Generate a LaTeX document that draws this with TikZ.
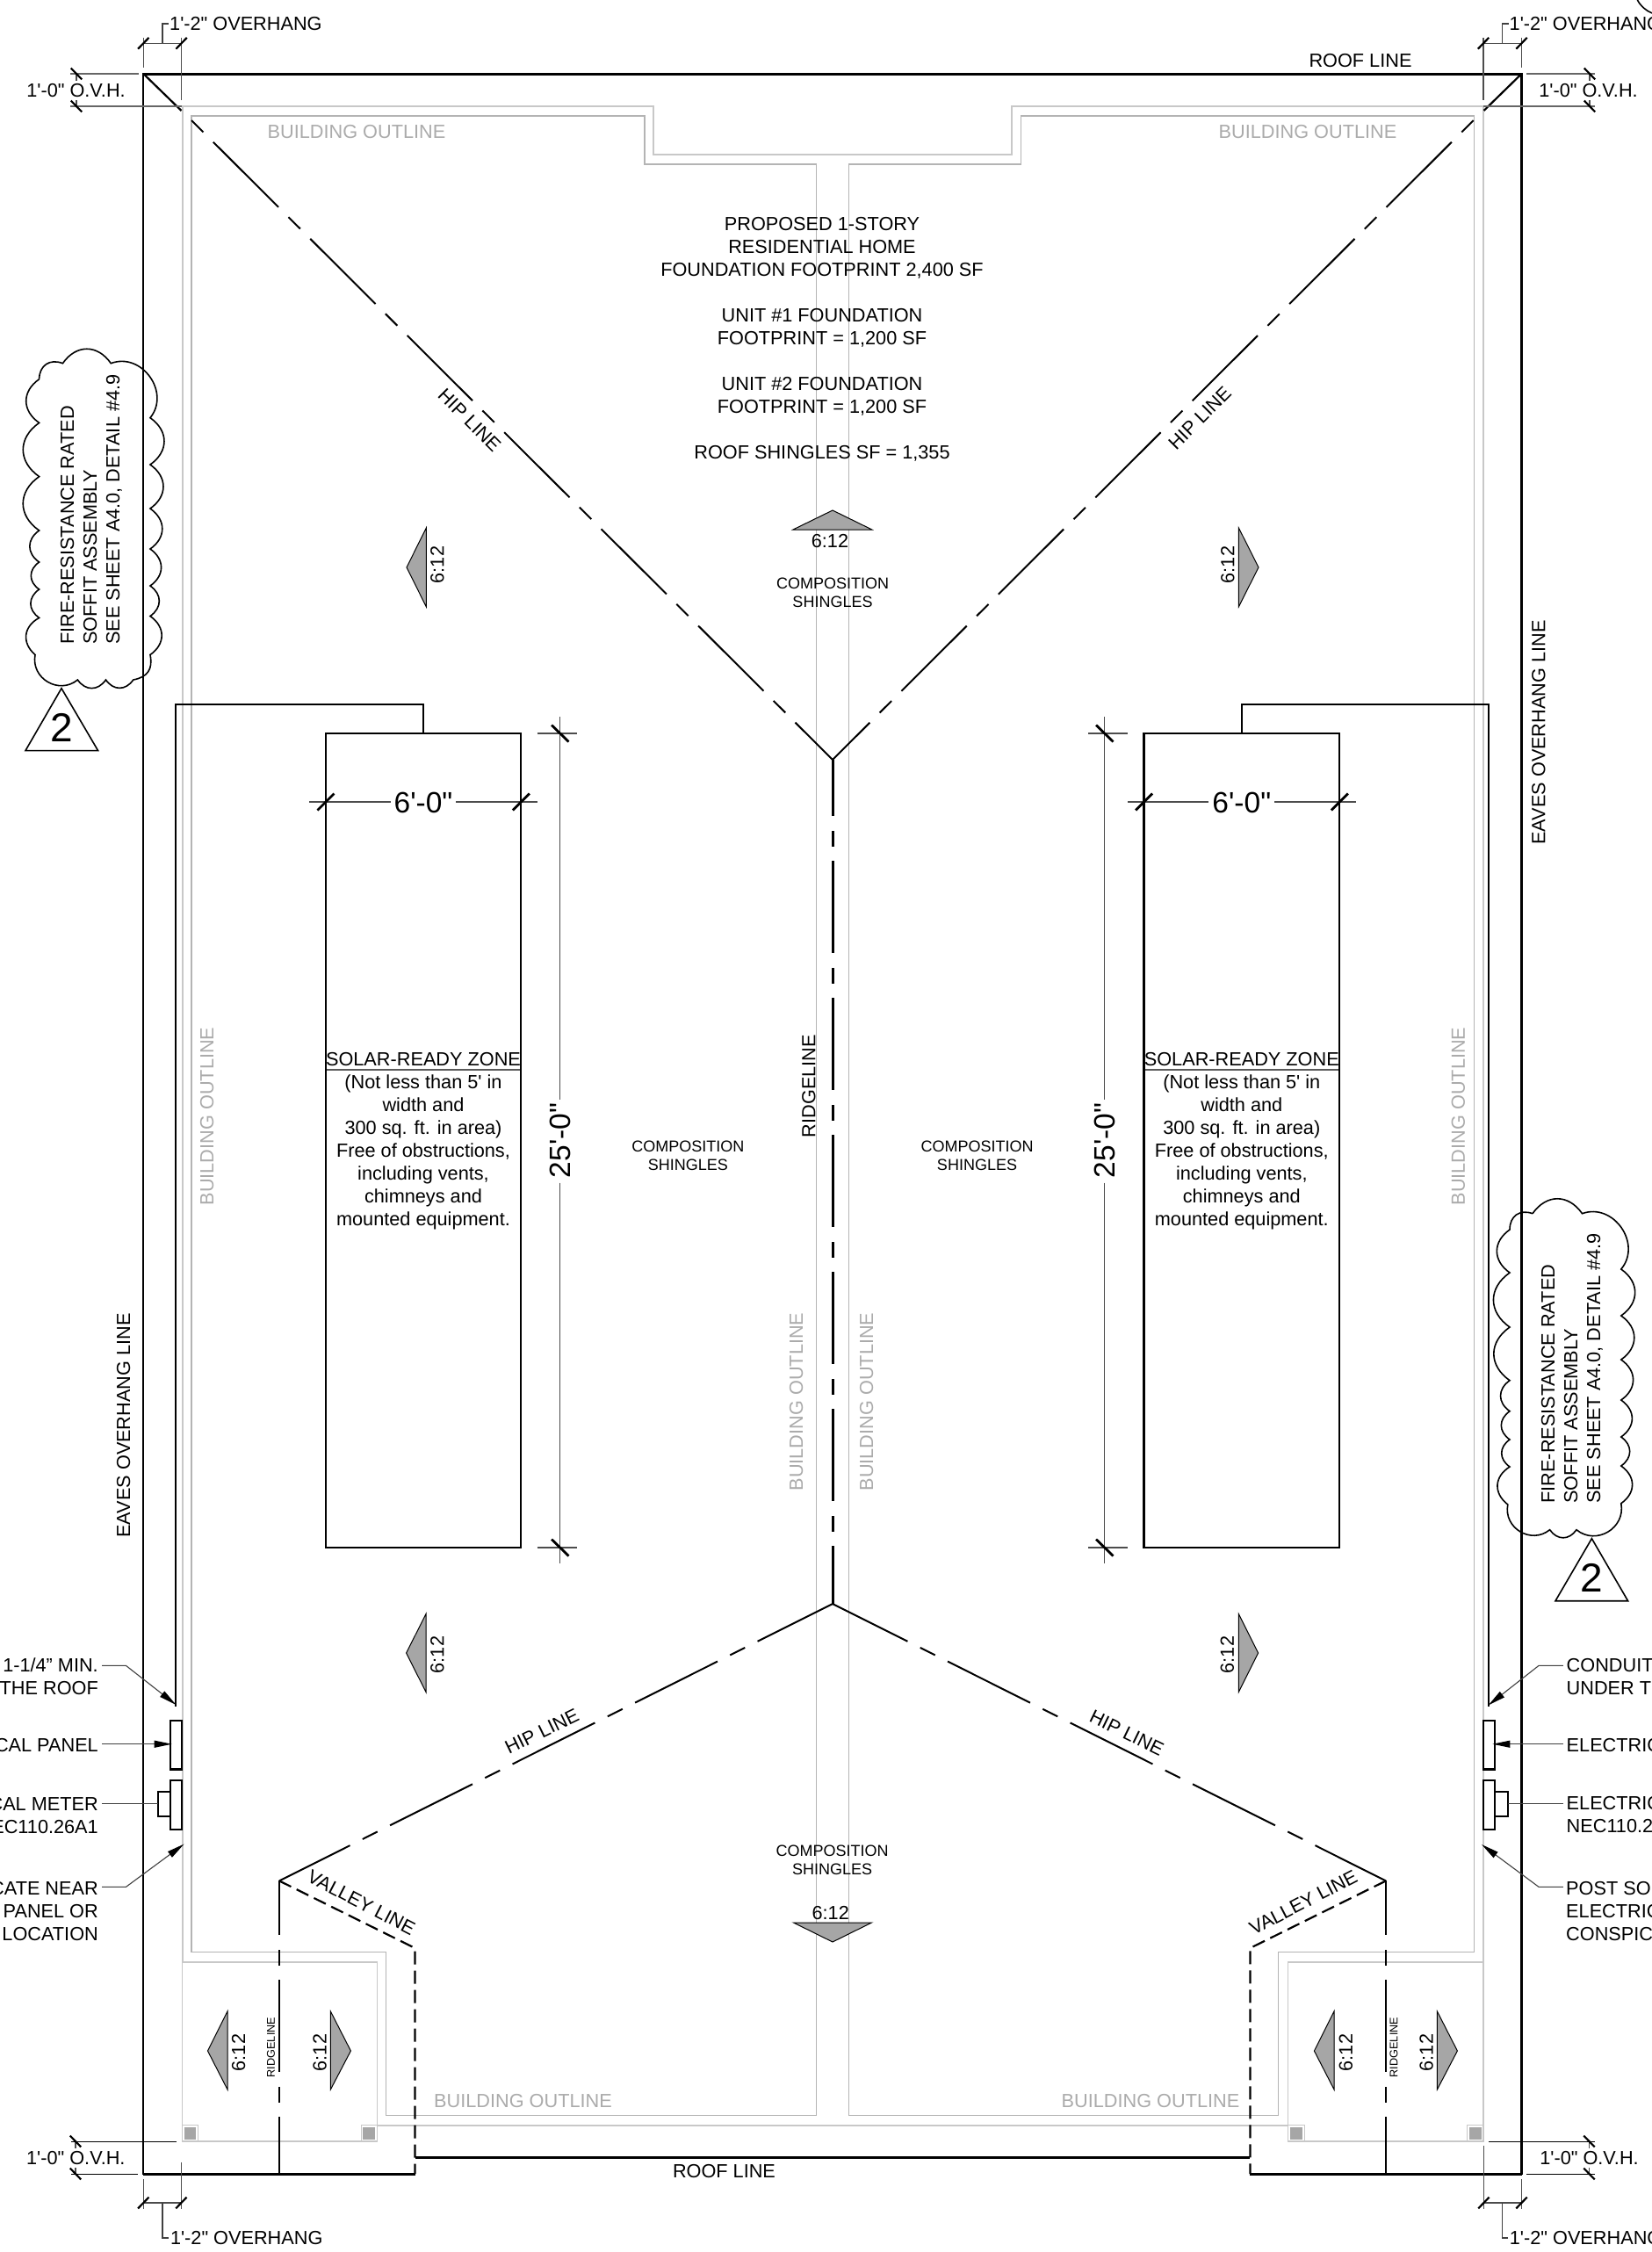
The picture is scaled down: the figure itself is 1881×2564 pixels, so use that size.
\documentclass[tikz,border=0pt]{standalone}
\usepackage{fontspec}
\usetikzlibrary{arrows.meta}
\newfontfamily\arialf{Liberation Sans}
\newcommand\fsz[1]{\arialf\fontsize{#1}{26}\selectfont}
\newcommand\fszs[1]{\arialf\fontsize{#1}{21}\selectfont}
\definecolor{grayA}{HTML}{C8C8C8}
\definecolor{grayB}{HTML}{B4B4B4}
\definecolor{grayT}{HTML}{ABABAB}
\definecolor{fillT}{HTML}{A6A6A6}
\tikzset{
  txt/.style={inner sep=0pt,font=\fsz{21.7},align=center,text=black},
  gtxt/.style={txt,text=grayT},
  small/.style={inner sep=0pt,font=\fszs{18},align=center,text=black},
  big/.style={inner sep=0pt,font=\fsz{33.5},align=center,text=black},
  outA/.style={draw=grayA,line width=2pt},
  outAthin/.style={draw=grayA,line width=1.3pt},
  outB/.style={draw=grayB,line width=1.3pt},
  roof/.style={draw=black,line width=3pt},
  wall/.style={draw=black,line width=2.2pt},
  hipline/.style={draw=black,line width=2pt,dash pattern=on 19pt off 16pt on 105pt off 16pt},
  hipback/.style={draw=black,line width=2pt,dash pattern=on 105pt off 16pt on 19pt off 16pt,dash phase=15pt},
  ridge/.style={draw=black,line width=3pt,dash pattern=on 105pt off 17pt on 18pt off 16pt,dash phase=41pt},
  ridgesm/.style={draw=black,line width=2.6pt,dash pattern=on 105pt off 17pt on 18pt off 16pt,dash phase=43pt},
  valley/.style={draw=black,line width=2.2pt,dash pattern=on 15pt off 7pt},
  box/.style={draw=black,line width=2.2pt},
  boxthin/.style={draw=black,line width=2pt},
  ext/.style={draw=black!70,line width=1.1pt},
  extdark/.style={draw=black!60,line width=1.6pt},
  tick/.style={draw=black,line width=2.2pt},
  ticklg/.style={draw=black,line width=2.8pt},
  leader/.style={draw=black!75,line width=1.1pt},
  pointer/.style={leader,-{Stealth[length=20pt,width=8pt,inset=0pt,black]}},
  slope/.style={draw=black,line width=1pt,fill=fillT},
  cloud/.style={draw=black,line width=1.6pt,looseness=1.25},
  tag/.style={draw=black,line width=1.6pt},
  sqr/.style={draw=grayA,line width=1pt},
  sqrfill/.style={fill=fillT},
}
\newcommand\slashtick[2]{\draw[tick] ([shift={(-6.2,6.4)}]#1,#2) -- ([shift={(6.2,-6.4)}]#1,#2);}
\newcommand\backtick[2]{\draw[tick] ([shift={(-6.2,-6.4)}]#1,#2) -- ([shift={(6.2,6.4)}]#1,#2);}
\begin{document}
\begin{tikzpicture}[x=1pt,y=-1pt]
\useasboundingbox (0,0) rectangle (1881,2564);
\fill[white] (0,0) rectangle (1881,2564);

% building outlines
\draw[outA] (207.6,2234) -- (207.6,121) -- (744,121) -- (744,176) -- (1152.4,176) -- (1152.4,121) -- (1689,121) -- (1689,2234);
\draw[outAthin] (1689,2234) -- (1689,2438) -- (1466.7,2438) -- (1466.7,2234) -- (1689,2234);
\draw[outAthin] (207.6,2234) -- (207.6,2438) -- (429.4,2438) -- (429.4,2234) -- (207.6,2234);
\draw[outA] (429.4,2420) -- (1466.7,2420);
\draw[outB] (218,132) -- (734,132) -- (734,187) -- (929.5,187) -- (929.5,2408.7) -- (439.7,2408.7) -- (439.7,2222.5) -- (218,2222.5) -- cycle;
\draw[outB] (1678.3,132) -- (1162.8,132) -- (1162.8,187) -- (966.4,187) -- (966.4,2408.7) -- (1455.6,2408.7) -- (1455.6,2222.5) -- (1678.3,2222.5) -- cycle;

% small posts
\draw[sqr] (207,2419.7) rectangle (225.8,2438);
\fill[sqrfill] (209.6,2422.4) rectangle (223.4,2436);
\draw[sqr] (411,2419.7) rectangle (429.4,2438);
\fill[sqrfill] (413,2422.4) rectangle (427,2436);
\draw[sqr] (1466.7,2419.7) rectangle (1485,2438);
\fill[sqrfill] (1469,2422.4) rectangle (1483.4,2436);
\draw[sqr] (1670.5,2419.7) rectangle (1689.4,2438);
\fill[sqrfill] (1673,2422.4) rectangle (1687,2436);

% roof
\draw[roof] (163.3,84) -- (1732.5,84);
\draw[wall] (163.3,83) -- (163.3,2476.4);
\draw[wall] (1732.5,83) -- (1732.5,2476.4);
\draw[roof] (163.3,2475) -- (472.5,2475);
\draw[roof] (1423.4,2475) -- (1732.5,2475);
\draw[roof] (472.5,2456.7) -- (1423.4,2456.7);

% hips
\draw[wall] (163.3,84) -- (206.5,126);
\draw[wall] (1732.5,84) -- (1689.5,126);
\draw[hipline] (218,137) -- (948,865);
\draw[hipline] (1677.7,137) -- (948,865);
\draw[hipback] (318,2141.4) -- (948,1826);
\draw[hipback] (1578,2141.4) -- (948,1826);
\draw[ridge] (948,865) -- (948,1826);
\draw[ridgesm] (318,2141.4) -- (318,2475);
\draw[ridgesm] (1578,2141.4) -- (1578,2475);
\draw[valley] (318,2141.4) -- (472.5,2218) -- (472.5,2475);
\draw[valley] (1578,2141.4) -- (1423.4,2218) -- (1423.4,2475);

% conduits
\draw[boxthin] (200.4,1943) -- (200.4,802) -- (482,802) -- (482,835);
\draw[boxthin] (1695.3,1943) -- (1695.3,802) -- (1413.6,802) -- (1413.6,835);

% solar zones
\draw[box] (371,835) rectangle (593.3,1762);
\draw[box] (1302.5,835) rectangle (1525.3,1762);
\draw[draw=black!65,line width=1.3pt] (372,1218) -- (592,1218);
\draw[draw=black!65,line width=1.3pt] (1303.5,1218) -- (1524.3,1218);
\node[txt] (solarA) at (482,1206) {SOLAR-READY ZONE};
\node[txt] (solarB) at (1413.8,1206) {SOLAR-READY ZONE};
\node[txt] (solarAt) at (482,1312) {(Not less than 5' in\\width and\\300 sq. ft. in area)\\Free of obstructions,\\including vents,\\chimneys and\\mounted equipment.};
\node[txt] (solarBt) at (1413.8,1312) {(Not less than 5' in\\width and\\300 sq. ft. in area)\\Free of obstructions,\\including vents,\\chimneys and\\mounted equipment.};

% 6'-0" dims
\draw[ext] (352,913) -- (445,913);
\draw[ext] (519,913) -- (611.6,913);
\draw[ticklg] (361.5,922.5) -- (380.5,903.5);
\draw[ticklg] (583.8,922.5) -- (602.8,903.5);
\node[big] (dimA) at (482,914) {6'-0"};
\draw[ext] (1284,913) -- (1376,913);
\draw[ext] (1451,913) -- (1543.5,913);
\draw[ticklg] (1293,922.5) -- (1312,903.5);
\draw[ticklg] (1515.8,922.5) -- (1534.8,903.5);
\node[big] (dimB) at (1413.8,914) {6'-0"};

% 25'-0" dims
\draw[ext] (637.7,816) -- (637.7,1251.7);
\draw[ext] (637.7,1346.7) -- (637.7,1780);
\draw[ext] (611.6,835) -- (657,835);
\draw[ext] (611.6,1762) -- (657,1762);
\draw[ticklg] (628,825.5) -- (647.5,844.5);
\draw[ticklg] (628,1752.5) -- (647.5,1771.5);
\node[big,rotate=90] (dimC) at (637.7,1298.5) {25'-0"};
\draw[ext] (1257.8,816) -- (1257.8,1251.7);
\draw[ext] (1257.8,1346.7) -- (1257.8,1780);
\draw[ext] (1239,835) -- (1284,835);
\draw[ext] (1239,1762) -- (1284,1762);
\draw[ticklg] (1248,825.5) -- (1267.5,844.5);
\draw[ticklg] (1248,1752.5) -- (1267.5,1771.5);
\node[big,rotate=90] (dimD) at (1257.8,1298.5) {25'-0"};

% top overhang dims
\draw[ext] (163.3,43) -- (163.3,77);
\draw[ext] (206.6,43) -- (206.6,114);
\draw[ext] (163.3,49.3) -- (206.6,49.3);
\slashtick{163.3}{49.3}\slashtick{206.6}{49.3}
\draw[leader] (185,49.3) -- (185,27) -- (192,27);
\node[txt,anchor=west] (ovhA) at (193,27) {1'-2" OVERHANG};
\draw[ext] (1689,43) -- (1689,114);
\draw[ext] (1732.5,43) -- (1732.5,77);
\draw[ext] (1689,49.3) -- (1732.5,49.3);
\slashtick{1689}{49.3}\slashtick{1732.5}{49.3}
\draw[leader] (1710.5,49.3) -- (1710.5,27) -- (1717.5,27);
\node[txt,anchor=west] (ovhB) at (1718.5,27) {1'-2" OVERHANG};

\draw[extdark] (80,84) -- (158,84);
\draw[extdark] (80,121) -- (207,121);
\draw[ext] (87,84) -- (87,92);
\draw[ext] (87,114) -- (87,121);
\backtick{87}{84}\backtick{87}{121}
\node[txt] (ovC) at (86.5,103) {1'-0" O.V.H.};
\draw[extdark] (1738,84) -- (1816,84);
\draw[extdark] (1689,121) -- (1816,121);
\draw[ext] (1810,84) -- (1810,92);
\draw[ext] (1810,114) -- (1810,121);
\backtick{1810}{84}\backtick{1810}{121}
\node[txt] (ovD) at (1808.5,103) {1'-0" O.V.H.};

% bottom overhang dims
\draw[ext] (163.3,2481) -- (163.3,2515);
\draw[ext] (206.4,2461.6) -- (206.4,2515);
\draw[ext] (163.3,2508) -- (206.4,2508);
\slashtick{163.3}{2508}\slashtick{206.4}{2508}
\draw[leader] (185,2508) -- (185,2548) -- (191.5,2548);
\node[txt,anchor=west] (ovhE) at (193.8,2548) {1'-2" OVERHANG};
\draw[ext] (1689.4,2443) -- (1689.4,2515);
\draw[ext] (1732.5,2481) -- (1732.5,2515);
\draw[ext] (1689.4,2508) -- (1732.5,2508);
\slashtick{1689.4}{2508}\slashtick{1732.5}{2508}
\draw[leader] (1710.5,2508) -- (1710.5,2548) -- (1717,2548);
\node[txt,anchor=west] (ovhF) at (1718.7,2548) {1'-2" OVERHANG};

\draw[draw=black,line width=1pt] (81,2438) -- (201,2438);
\draw[draw=black,line width=1pt] (81,2475) -- (157,2475);
\draw[ext] (86,2438) -- (86,2446);
\draw[ext] (86,2468) -- (86,2475);
\backtick{86}{2438}\backtick{86}{2475}
\node[txt] (ovG) at (86.3,2457) {1'-0" O.V.H.};
\draw[draw=black,line width=1pt] (1695,2438) -- (1815.8,2438);
\draw[draw=black,line width=1pt] (1738.3,2475) -- (1815.8,2475);
\draw[ext] (1809.5,2438) -- (1809.5,2446);
\draw[ext] (1809.5,2468) -- (1809.5,2475);
\backtick{1809.5}{2438}\backtick{1809.5}{2475}
\node[txt] (ovH) at (1809.5,2457) {1'-0" O.V.H.};

% panels and meters
\draw[box] (193.8,1958.8) rectangle (206.8,2014.4);
\draw[box] (193.8,2026.7) rectangle (206.8,2082.7);
\draw[boxthin] (193.8,2039.9) -- (179.5,2039.9) -- (179.5,2067.7) -- (193.8,2067.7);
\draw[box] (1689,1958.8) rectangle (1701.6,2014.4);
\draw[box] (1689,2026.7) rectangle (1701.6,2082.7);
\draw[boxthin] (1701.6,2039.9) -- (1716.5,2039.9) -- (1716.5,2067.7) -- (1701.6,2067.7);

% leaders left
\draw[pointer] (116,1896.4) -- (143.5,1896.4) -- (200.5,1941);
\draw[pointer] (116,1985.7) -- (195.7,1985.7);
\draw[leader] (116,2053.5) -- (179.5,2053.5);
\draw[pointer] (116,2148.3) -- (143.5,2148.3) -- (209.6,2099.5);
\node[txt,anchor=east,align=right] (noteA) at (112,1909) {1-1/4” MIN.\\THE ROOF};
\node[txt,anchor=east] (noteB) at (112,1987) {CAL PANEL};
\node[txt,anchor=east,align=right] (noteC) at (112,2067) {CAL METER\\EC110.26A1};
\node[txt,anchor=east,align=right] (noteD) at (112,2176) {CATE NEAR\\PANEL OR\\LOCATION};

% leaders right
\draw[pointer] (1779.8,1896.4) -- (1752,1896.4) -- (1694.6,1941.5);
\draw[pointer] (1779.8,1985.7) -- (1699.4,1985.7);
\draw[leader] (1779.8,2053.5) -- (1716.5,2053.5);
\draw[pointer] (1779.8,2148.3) -- (1752,2148.3) -- (1687,2100);
\node[txt,anchor=west,align=left] (noteE) at (1783.5,1909) {CONDUIT\\UNDER T};
\node[txt,anchor=west] (noteF) at (1783.5,1986.6) {ELECTRIC};
\node[txt,anchor=west,align=left] (noteG) at (1783.5,2066) {ELECTRIC\\NEC110.2};
\node[txt,anchor=west,align=left] (noteH) at (1783,2176) {POST SOL\\ELECTRIC\\CONSPIC};

% clouds
\draw[cloud] (44.6,431.7) to[bend left=55] (71.4,413.7) to[bend left=55] (126.3,413.7)
 to[bend left=75] (171,475.7) to[bend left=55] (171,529) to[bend left=55] (171,579) to[bend left=55] (171,625)
 to[bend left=55] (171,667) to[bend left=55] (171,701.5) to[bend left=55] (171,745.5) to[bend left=45] (151.8,774)
 to[bend left=55] (120.5,774) to[bend left=55] (88.4,774) to[bend left=70] (40,745.5) to[bend left=55] (44.6,703.4)
 to[bend left=55] (44.6,671) to[bend left=55] (44.6,640) to[bend left=55] (44.6,604) to[bend left=55] (44.6,542.6)
 to[bend left=55] (44.6,481.4) to[bend left=55] (44.6,431.7);
\draw[cloud] (1745,1381.7) to[bend left=55] (1801.5,1381.7) to[bend left=75] (1845.8,1445)
 to[bend left=55] (1845.8,1498) to[bend left=55] (1845.8,1548) to[bend left=55] (1845.8,1594) to[bend left=55] (1845.8,1636)
 to[bend left=55] (1845.8,1669) to[bend left=55] (1845.8,1711.7) to[bend left=70] (1795,1741.7) to[bend left=55] (1764.6,1741.7)
 to[bend left=70] (1716.8,1713) to[bend left=55] (1719,1670) to[bend left=55] (1719,1639) to[bend left=55] (1719,1606.7)
 to[bend left=55] (1719,1571.7) to[bend left=55] (1719,1511) to[bend left=55] (1719,1449) to[bend left=55] (1719,1400) to[bend left=55] (1745,1381.7);
\draw[cloud] (1864.4,0) .. controls (1868,7) and (1874,12) .. (1881,15);
\node[txt,rotate=90,anchor=west,align=left] (cloudA) at (104,734) {FIRE-RESISTANCE RATED\\SOFFIT ASSEMBLY\\SEE SHEET A4.0, DETAIL \#4.9};
\node[txt,rotate=90,anchor=west,align=left] (cloudB) at (1790,1711.7) {FIRE-RESISTANCE RATED\\SOFFIT ASSEMBLY\\SEE SHEET A4.0, DETAIL \#4.9};
\draw[tag] (70,783.7) -- (111.6,854.6) -- (29,854.6) -- cycle;
\node[inner sep=0pt,font=\fsz{46}] (tagA) at (70,828.5) {2};
\draw[tag] (1812.4,1751.7) -- (1853.6,1822.7) -- (1771,1822.7) -- cycle;
\node[inner sep=0pt,font=\fsz{46}] (tagB) at (1812.4,1796.7) {2};

% slope arrows
\draw[slope] (948,581) -- (992.8,603) -- (903,603) -- cycle;
\node[txt] (slA) at (945,616) {6:12};
\draw[slope] (948,2211) -- (992.5,2189) -- (903.5,2189) -- cycle;
\node[txt] (slB) at (945.7,2178) {6:12};
\draw[slope] (463,646) -- (485.3,601) -- (485.3,690.8) -- cycle;
\node[txt,rotate=90] (slC) at (498,643) {6:12};
\draw[slope] (1433,646) -- (1410.4,601) -- (1410.4,690.8) -- cycle;
\node[txt,rotate=90] (slD) at (1398,643) {6:12};
\draw[slope] (462.6,1882) -- (485,1837.5) -- (485,1926.5) -- cycle;
\node[txt,rotate=90] (slE) at (498,1884) {6:12};
\draw[slope] (1432.6,1882) -- (1410.4,1837.5) -- (1410.4,1926.5) -- cycle;
\node[txt,rotate=90] (slF) at (1397.4,1884) {6:12};
\draw[slope] (236.5,2335) -- (259,2290) -- (259,2379) -- cycle;
\node[txt,rotate=90] (slG) at (271.6,2337) {6:12};
\draw[slope] (399.4,2335) -- (376.4,2290) -- (376.4,2379) -- cycle;
\node[txt,rotate=90] (slH) at (364.2,2337) {6:12};
\draw[slope] (1496.4,2335) -- (1519,2290) -- (1519,2379) -- cycle;
\node[txt,rotate=90] (slI) at (1532.3,2337) {6:12};
\draw[slope] (1659.4,2335) -- (1636.4,2290) -- (1636.4,2379) -- cycle;
\node[txt,rotate=90] (slJ) at (1624.2,2337) {6:12};

% roof text
\node[txt] (mainT) at (936,386) {PROPOSED 1-STORY\\RESIDENTIAL HOME\\FOUNDATION FOOTPRINT 2,400 SF\\ \\UNIT \#1 FOUNDATION\\FOOTPRINT = 1,200 SF\\ \\UNIT \#2 FOUNDATION\\FOOTPRINT = 1,200 SF\\ \\ROOF SHINGLES SF = 1,355};
\node[small] (compA) at (948,675) {COMPOSITION\\SHINGLES};
\node[small] (compB) at (783.4,1315.5) {COMPOSITION\\SHINGLES};
\node[small] (compC) at (1112.5,1315.5) {COMPOSITION\\SHINGLES};
\node[small] (compD) at (947.7,2117.5) {COMPOSITION\\SHINGLES};
\node[txt,rotate=90] (ridgeT) at (921,1236.6) {RIDGELINE};
\node[inner sep=0pt,font=\fsz{12.7},rotate=90] (ridgeL) at (308.4,2331) {RIDGELINE};
\node[inner sep=0pt,font=\fsz{12.7},rotate=90] (ridgeR) at (1587,2331) {RIDGELINE};
\node[txt] (roofA) at (1549,69) {ROOF LINE};
\node[txt] (roofB) at (824.5,2472) {ROOF LINE};
\node[txt,rotate=90] (eaveA) at (140.7,1623) {EAVES OVERHANG LINE};
\node[txt,rotate=90] (eaveB) at (1752,834) {EAVES OVERHANG LINE};
\node[txt,rotate=-45] (hipA) at (534.7,478.5) {HIP LINE};
\node[txt,rotate=45] (hipB) at (1366,476) {HIP LINE};
\node[txt,rotate=26] (hipC) at (617,1971) {HIP LINE};
\node[txt,rotate=-26] (hipD) at (1283,1973) {HIP LINE};
\node[txt,rotate=-27.5] (valA) at (411.5,2166) {VALLEY LINE};
\node[txt,rotate=27.5] (valB) at (1484,2166) {VALLEY LINE};

% building labels
\node[gtxt] (bldA) at (406,150) {BUILDING OUTLINE};
\node[gtxt] (bldB) at (1489,150) {BUILDING OUTLINE};
\node[gtxt,rotate=90] (bldC) at (235.6,1271) {BUILDING OUTLINE};
\node[gtxt,rotate=90] (bldD) at (1660.5,1271) {BUILDING OUTLINE};
\node[gtxt,rotate=90] (bldE) at (906.7,1596) {BUILDING OUTLINE};
\node[gtxt,rotate=90] (bldF) at (986.7,1596) {BUILDING OUTLINE};
\node[gtxt] (bldG) at (595.5,2392) {BUILDING OUTLINE};
\node[gtxt] (bldH) at (1310,2392) {BUILDING OUTLINE};
\end{tikzpicture}
\end{document}
